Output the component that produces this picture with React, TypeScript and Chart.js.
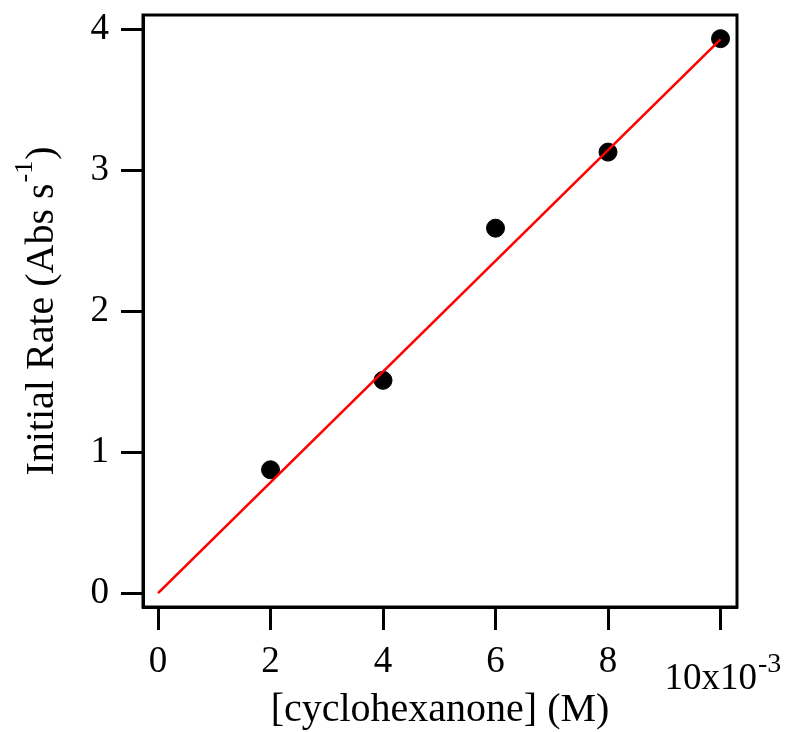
import React, { useEffect, useRef } from "react";
import { Chart, registerables } from "chart.js";

Chart.register(...registerables);

const xValues = [2, 4, 6, 8, 10];
const rateValues = [0.875, 1.51, 2.59, 3.13, 3.935];
const fitX = [0, 10];
const fitY = [0, 3.93];
const xTicks = [0, 2, 4, 6, 8, 10];
const yTicks = [0, 1, 2, 3, 4];

const FONT = "'Liberation Serif', serif";
const TICK_FS = 37;
const TITLE_FS = 40;

const framePlugin = {
  id: "frame",
  afterDraw(chart: any) {
    const { ctx, chartArea, scales } = chart;
    ctx.save();
    ctx.strokeStyle = "#000";
    ctx.lineWidth = 3;
    ctx.strokeRect(chartArea.left, chartArea.top, chartArea.right - chartArea.left, chartArea.bottom - chartArea.top);
    ctx.fillStyle = "#000";
    // exponent label at tick 10
    const x10 = scales.x.getPixelForValue(10);
    ctx.textBaseline = "alphabetic";
    ctx.textAlign = "left";
    ctx.font = `${TICK_FS}px ${FONT}`;
    const main = "10x10";
    const w = ctx.measureText(main).width;
    const sx = x10 - 56;
    ctx.fillText(main, sx, 689);
    ctx.font = `28px ${FONT}`;
    ctx.fillText("-3", sx + w + 1, 672);
    // x title
    ctx.font = `${TITLE_FS}px ${FONT}`;
    ctx.textAlign = "center";
    ctx.fillText("[cyclohexanone] (M)", 440, 721);
    // y title rotated
    ctx.translate(53, 312);
    ctx.rotate(-Math.PI / 2);
    ctx.textAlign = "left";
    const t1 = "Initial Rate (Abs s";
    ctx.font = `${TITLE_FS}px ${FONT}`;
    const w1 = ctx.measureText(t1).width;
    ctx.font = `26px ${FONT}`;
    const w2 = ctx.measureText("-1").width;
    ctx.font = `${TITLE_FS}px ${FONT}`;
    const w3 = ctx.measureText(")").width;
    const start = -(w1 + w2 + w3) / 2;
    ctx.fillText(t1, start, 0);
    ctx.font = `26px ${FONT}`;
    ctx.fillText("-1", start + w1 + 1, -21);
    ctx.font = `${TITLE_FS}px ${FONT}`;
    ctx.fillText(")", start + w1 + w2 + 2, 0);
    ctx.restore();
  },
};

export default function App() {
  const ref = useRef<HTMLCanvasElement>(null);
  useEffect(() => {
    document.body.style.margin = "0";
    const chart = new Chart(ref.current!, {
      type: "scatter",
      data: {
        datasets: [
          {
            type: "line",
            label: "fit",
            data: fitX.map((x, i) => ({ x, y: fitY[i] })),
            borderColor: "#ff0000",
            borderWidth: 2.6,
            pointRadius: 0,
            fill: false,
          },
          {
            label: "data",
            data: xValues.map((x, i) => ({ x, y: rateValues[i] })),
            backgroundColor: "#000",
            borderColor: "#000",
            pointRadius: 9,
          },
        ],
      } as any,
      options: {
        animation: false,
        responsive: false,
        maintainAspectRatio: false,
        layout: { padding: { top: 15, right: 48, left: 0, bottom: 0 } },
        plugins: { legend: { display: false }, tooltip: { enabled: false } },
        scales: {
          x: {
            type: "linear",
            min: -0.267,
            max: 10.293,
            afterBuildTicks: (s: any) => {
              s.ticks = xTicks.map((v) => ({ value: v }));
            },
            afterFit: (s: any) => {
              s.height = 732 - 607;
              s.paddingLeft = 0;
              s.paddingRight = 0;
            },
            grid: { drawOnChartArea: false, drawTicks: true, tickLength: 23, tickColor: "#000", tickWidth: 3 },
            border: { display: true, color: "#000", width: 3 },
            ticks: {
              color: "#000",
              font: { family: FONT, size: TICK_FS },
              padding: 10,
              maxRotation: 0,
              callback: (v: any) => (v === 10 ? "" : String(v)),
            },
          },
          y: {
            type: "linear",
            min: -0.099,
            max: 4.103,
            afterBuildTicks: (s: any) => {
              s.ticks = yTicks.map((v) => ({ value: v }));
            },
            afterFit: (s: any) => {
              s.width = 143;
              s.paddingTop = 0;
              s.paddingBottom = 0;
            },
            grid: { drawOnChartArea: false, drawTicks: true, tickLength: 22, tickColor: "#000", tickWidth: 3 },
            border: { display: true, color: "#000", width: 3 },
            ticks: {
              color: "#000",
              font: { family: FONT, size: TICK_FS },
              padding: 12,
              callback: (v: any) => String(v),
            },
          },
        },
      },
      plugins: [framePlugin],
    });
    return () => chart.destroy();
  }, []);
  return (
    <div style={{ width: 785, height: 732 }}>
      <canvas ref={ref} width={785} height={732} style={{ display: "block" }} />
    </div>
  );
}
